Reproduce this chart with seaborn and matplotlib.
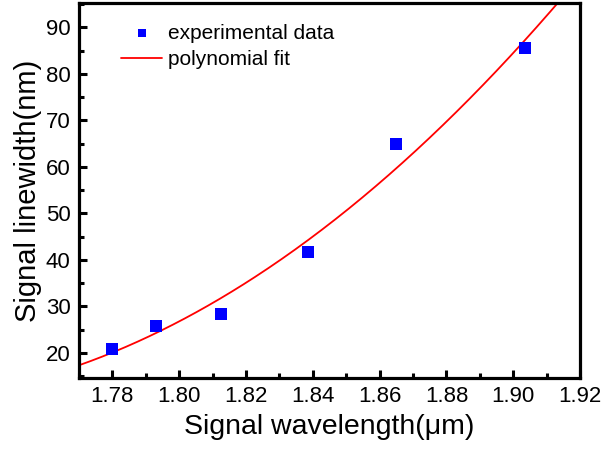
import numpy as np
import pandas as pd
import seaborn as sns
import matplotlib
matplotlib.use("Agg")
import matplotlib.pyplot as plt
from matplotlib.ticker import MultipleLocator

wavelength = [1.780, 1.793, 1.8125, 1.8385, 1.865, 1.9036]
linewidth = [20.9, 25.7, 28.4, 41.7, 65.0, 85.6]
x_ticks = [1.78, 1.80, 1.82, 1.84, 1.86, 1.88, 1.90, 1.92]
y_ticks = [20, 30, 40, 50, 60, 70, 80, 90]

sns.set_theme(style="white")
plt.rcParams['font.family'] = ['Liberation Sans', 'DejaVu Sans']
plt.rcParams['text.color'] = 'black'
plt.rcParams['axes.labelcolor'] = 'black'

df = pd.DataFrame({"wavelength": wavelength, "linewidth": linewidth})
coef = np.polyfit(wavelength, linewidth, 2)
xf = np.linspace(1.77, 1.92, 300)
fit = pd.DataFrame({"wavelength": xf, "linewidth": np.polyval(coef, xf)})

fig = plt.figure(figsize=(6.03, 4.51), dpi=100)
ax = fig.add_axes([0.131, 0.162, 0.831, 0.831])

sns.scatterplot(data=df, x="wavelength", y="linewidth", ax=ax, marker="s",
                s=70, color="#0000ff", edgecolor="#0000ff", linewidth=0,
                label="experimental data", zorder=3)
sns.lineplot(data=fit, x="wavelength", y="linewidth", ax=ax, color="#ff0000",
             linewidth=1.3, label="polynomial fit", zorder=2)

ax.set_xlim(1.77, 1.92)
ax.set_ylim(14.6, 95.2)
ax.set_xticks(x_ticks)
ax.set_xticklabels([f"{v:.2f}" for v in x_ticks])
ax.set_yticks(y_ticks)
ax.xaxis.set_minor_locator(MultipleLocator(0.01))
ax.yaxis.set_minor_locator(MultipleLocator(5))
ax.tick_params(which="major", direction="in", length=6, width=2.2, labelsize=16,
               colors="black", labelcolor="black", pad=6, bottom=True, left=True)
ax.tick_params(which="minor", direction="in", length=3.5, width=2.2,
               colors="black", bottom=True, left=True)
for s in ax.spines.values():
    s.set_linewidth(2.3)
    s.set_color("black")
ax.set_xlabel("Signal wavelength(\u03bcm)", fontsize=20.5, labelpad=5, color="black")
ax.set_ylabel("Signal linewidth(nm)", fontsize=21, labelpad=3, color="black")
ax.grid(False)

leg = ax.legend(loc="upper left", bbox_to_anchor=(0.046, 0.995), frameon=False,
                fontsize=15, handlelength=2.0, handletextpad=0.25,
                labelspacing=0.35, markerscale=0.7)
for t in leg.get_texts():
    t.set_color("black")

fig.savefig("out.png", dpi=100)
